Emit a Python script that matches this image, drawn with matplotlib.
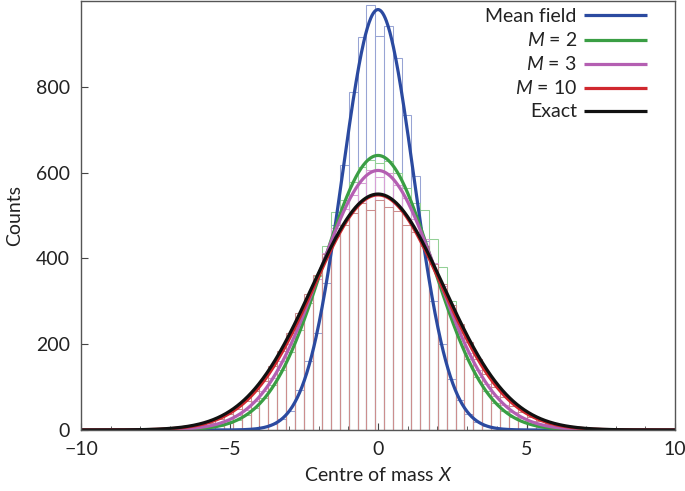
import numpy as np
import matplotlib
matplotlib.use("Agg")
import matplotlib.pyplot as plt

# ---------------- data ----------------
bin_start = -6.39          # left edge of first bin
bin_width = 0.3

counts_mean_field = [0, 0, 0, 0, 0, 0, 1, 2, 6, 13, 26, 44, 94, 160, 227, 343, 477, 617,
                     789, 917, 991, 919, 942, 866, 735, 592, 440, 300, 200, 120, 70, 38,
                     19, 9, 4, 2, 1, 0, 0, 0, 0, 0]
counts_m2 = [2, 4, 6, 10, 16, 24, 36, 52, 74, 104, 140, 182, 232, 295, 360, 430, 507, 535,
             578, 612, 630, 623, 628, 600, 565, 530, 513, 446, 381, 300, 225, 165, 124,
             90, 64, 45, 31, 20, 13, 8, 5, 3]
counts_m3 = [4, 6, 10, 15, 22, 34, 47, 68, 92, 122, 160, 200, 250, 302, 352, 412, 470, 515,
             548, 575, 605, 590, 598, 570, 540, 492, 445, 390, 335, 280, 228, 180, 140,
             108, 80, 58, 41, 29, 20, 13, 8, 5]
counts_m10 = [8, 12, 17, 26, 37, 50, 68, 90, 115, 150, 185, 225, 272, 318, 362, 410, 452,
              478, 505, 528, 512, 535, 520, 510, 478, 462, 430, 388, 340, 292, 248, 205,
              166, 130, 100, 76, 57, 42, 30, 21, 14, 9]

labels = ["Mean field", "$M$ = 2", "$M$ = 3", "$M$ = 10", "Exact"]
fit_amplitude = [980, 640, 605, 548, 550]
fit_sigma = [1.2, 1.84, 1.97, 2.17, 2.22]

line_colors = ["#2b4aa0", "#3a9e44", "#b45fb2", "#d0282e", "#111111"]
hist_colors = ["#98a4d4", "#93d096", "#d8a0d6", "#cc8e8e"]

# ---------------- style ----------------
plt.rcParams["font.family"] = ["Lato", "DejaVu Sans"]
plt.rcParams["mathtext.fontset"] = "custom"
plt.rcParams["mathtext.it"] = "Lato:italic"
plt.rcParams["mathtext.rm"] = "Lato"

text_color = "#222222"
fs = 14

fig = plt.figure(figsize=(6.85, 4.91), dpi=100)
ax = fig.add_axes([81 / 685, 61 / 491, 594 / 685, 429 / 491])

hists = [counts_mean_field, counts_m2, counts_m3, counts_m10]
for counts, col in zip(hists, hist_colors):
    n = len(counts)
    centers = bin_start + bin_width * (np.arange(n) + 0.5)
    ax.bar(centers, counts, width=bin_width, fill=False, edgecolor=col, linewidth=0.75)

x = np.linspace(-10, 10, 1001)
for amp, sig, col, lab in zip(fit_amplitude, fit_sigma, line_colors, labels):
    ax.plot(x, amp * np.exp(-x ** 2 / (2 * sig ** 2)), color=col, lw=2.3, label=lab,
            solid_capstyle="butt")

ax.set_xlim(-10, 10)
ax.set_ylim(0, 1000)
ax.set_xticks([-10, -5, 0, 5, 10])
ax.set_xticklabels(["\u221210", "\u22125", "0", "5", "10"])
ax.set_xticks(np.arange(-10, 11, 1), minor=True)
ax.set_yticks([0, 200, 400, 600, 800])
ax.tick_params(axis="both", which="both", direction="in", labelsize=fs, color="#444444",
               labelcolor=text_color)
ax.tick_params(axis="x", which="major", pad=8)
ax.tick_params(axis="y", which="major", pad=8)
ax.tick_params(which="major", length=5)
ax.tick_params(which="minor", length=3)
for sp in ax.spines.values():
    sp.set_color("#555555")
    sp.set_linewidth(1.0)

ax.set_xlabel("Centre of mass $X$", fontsize=fs, color=text_color, labelpad=6)
ax.set_ylabel("Counts", fontsize=fs, color=text_color, labelpad=9)

leg = ax.legend(loc="upper right", bbox_to_anchor=((647 - 81) / 594, 0.983),
                frameon=False, markerfirst=False, fontsize=fs,
                handlelength=3.25, handletextpad=0.36, labelspacing=0.31,
                borderaxespad=0.0, borderpad=0.0)
for t in leg.get_texts():
    t.set_ha("right")
    t.set_color(text_color)

fig.savefig("out.png", dpi=100)
